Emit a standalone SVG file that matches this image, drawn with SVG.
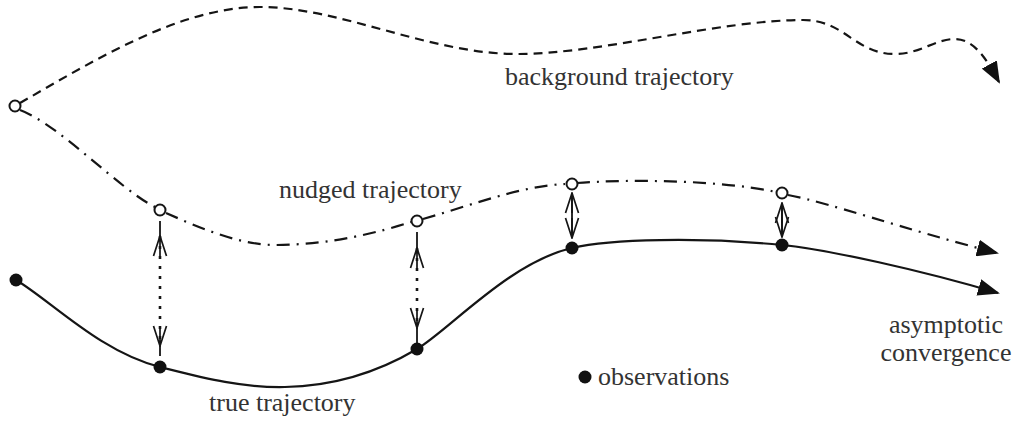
<svg xmlns="http://www.w3.org/2000/svg" width="1014" height="421" viewBox="0 0 1014 421">
<style>
.curve{fill:none;stroke:#151515;stroke-width:2.2}
.bg{stroke-dasharray:9 6}
.nudge{stroke-dasharray:13 7 2 7}
.link{fill:none;stroke:#151515;stroke-width:1.8}
.dots{stroke-dasharray:3 7;stroke-width:2.6}
.open{fill:#fff;stroke:#151515;stroke-width:2}
.obs{fill:#111}
.lbl{font-family:"Liberation Serif","Times New Roman",serif;font-size:26px;fill:#333}
</style>
<defs>
<marker id="tri" viewBox="0 0 22 17" refX="20" refY="8.5" markerWidth="22" markerHeight="17" markerUnits="userSpaceOnUse" orient="auto">
<path d="M0,0 L22,8.5 L0,17 Z" fill="#111"/>
</marker>
<marker id="vee" viewBox="0 0 22 16" refX="21" refY="8" markerWidth="22" markerHeight="16" markerUnits="userSpaceOnUse" orient="auto-start-reverse">
<path d="M1,1.5 L21,8 L1,14.5 M1,8 L21,8" fill="none" stroke="#151515" stroke-width="1.7"/>
</marker>
</defs>
<g id="connectors">
<path id="background" class="curve bg" marker-end="url(#tri)" d="M20,103 C95,60 180,7 260,7 C340,7 430,54 517,54 C600,54 720,20 803,20 C845,20 855,54 895,54 C920,54 935,39 955,39 C975,39 988,62 999,82"/>
<path id="nudged" class="curve nudge" marker-end="url(#tri)" d="M20,110 C60,125 120,190 155,207 M166,213 C200,228 240,245 275,245 C330,245 380,232 411,222 M423,219 C469,206 520,186 565,184 M577,183 C630,179 720,180 776,192 M788,195 C830,203 900,228 997,253"/>
<path id="true" class="curve" marker-end="url(#tri)" d="M16,280 C50,300 100,352 160,367 C200,377 240,388 285,387 C340,386 385,368 417,349 C449,330 510,262 572,248 C610,239 700,237 782,245 C830,250 920,270 998,293"/>
<path class="link dots" d="M160,236 L160,346" marker-start="url(#vee)" marker-end="url(#vee)"/>
<path class="link" d="M160,221 L160,236 M160,346 L160,356"/>
<path class="link dots" d="M417,248 L417,328" marker-start="url(#vee)" marker-end="url(#vee)"/>
<path class="link" d="M417,232 L417,248 M417,328 L417,343"/>
<path class="link" d="M572,193 L572,238" marker-start="url(#vee)" marker-end="url(#vee)"/>
<path class="link" d="M782,203 L782,237" marker-start="url(#vee)" marker-end="url(#vee)"/>
</g>
<g id="start-nudged"><circle class="open" cx="15" cy="106" r="5.5"/></g>
<g id="n1"><circle class="open" cx="160" cy="210" r="5.5"/></g>
<g id="n2"><circle class="open" cx="417" cy="221" r="5.5"/></g>
<g id="n3"><circle class="open" cx="572" cy="184" r="5.5"/></g>
<g id="n4"><circle class="open" cx="782" cy="193" r="5.5"/></g>
<g id="o0"><circle class="obs" cx="16" cy="280" r="6.5"/></g>
<g id="o1"><circle class="obs" cx="160" cy="367" r="6.5"/></g>
<g id="o2"><circle class="obs" cx="417" cy="349" r="6.5"/></g>
<g id="o3"><circle class="obs" cx="572" cy="248" r="6.5"/></g>
<g id="o4"><circle class="obs" cx="782" cy="245" r="6.5"/></g>
<g id="legend">
<circle class="obs" cx="585" cy="377" r="6.5"/>
<text class="lbl" x="598" y="385">observations</text>
</g>
<g id="labels">
<text class="lbl" x="505" y="85">background trajectory</text>
<text class="lbl" x="279" y="198">nudged trajectory</text>
<text class="lbl" x="209" y="411">true trajectory</text>
<text class="lbl" x="946" y="333" text-anchor="middle">asymptotic</text>
<text class="lbl" x="946" y="361" text-anchor="middle">convergence</text>
</g>
</svg>
